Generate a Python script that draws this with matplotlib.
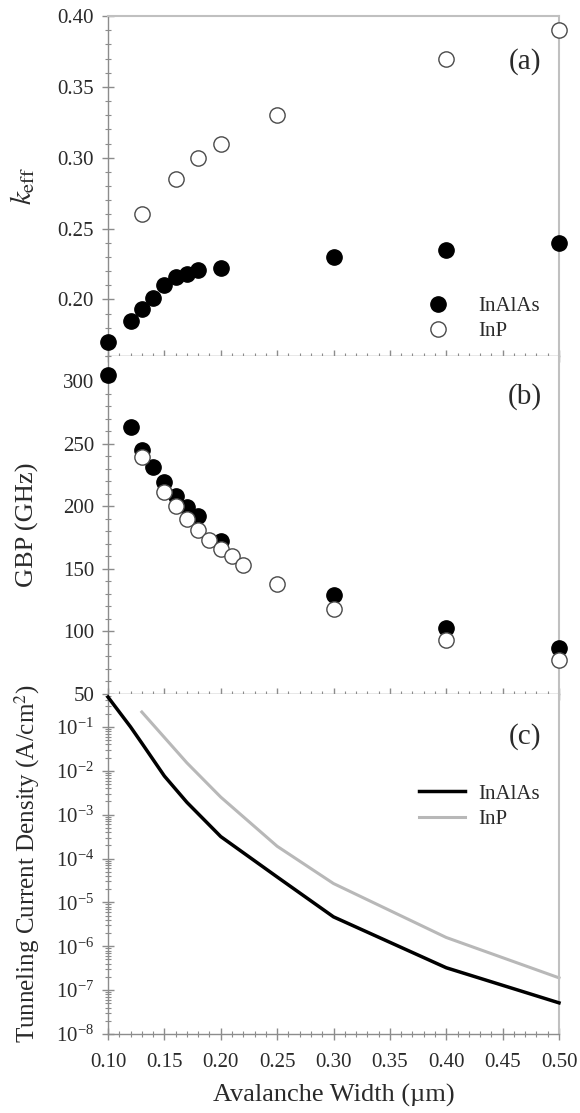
import numpy as np
import matplotlib
matplotlib.use("Agg")
import matplotlib.pyplot as plt
from matplotlib.ticker import MultipleLocator, LogLocator, NullFormatter, LogFormatterSciNotation

plt.rcParams['font.family'] = ['Liberation Serif', 'DejaVu Serif']
plt.rcParams['mathtext.fontset'] = 'stix'

# ---- data ----
# (a) k_eff
w_keff_inalas = [0.10, 0.12, 0.13, 0.14, 0.15, 0.16, 0.17, 0.18, 0.20, 0.30, 0.40, 0.50]
keff_inalas = [0.170, 0.185, 0.193, 0.201, 0.210, 0.216, 0.218, 0.221, 0.222, 0.230, 0.235, 0.240]
w_keff_inp = [0.13, 0.16, 0.18, 0.20, 0.25, 0.40, 0.50]
keff_inp = [0.260, 0.285, 0.300, 0.310, 0.330, 0.370, 0.390]

# (b) GBP
w_gbp_inalas = [0.10, 0.12, 0.13, 0.14, 0.15, 0.16, 0.17, 0.18, 0.20, 0.30, 0.40, 0.50]
gbp_inalas = [305, 263, 245, 231, 219, 208, 199, 192, 172, 129, 103, 87]
w_gbp_inp = [0.13, 0.15, 0.16, 0.17, 0.18, 0.19, 0.20, 0.21, 0.22, 0.25, 0.30, 0.40, 0.50]
gbp_inp = [239, 211, 200, 190, 181, 173, 166, 160, 153, 138, 118, 93, 77]

# (c) tunneling current density (log10 values)
w_tun_inalas = [0.10, 0.12, 0.13, 0.15, 0.17, 0.20, 0.25, 0.30, 0.40, 0.50]
logj_inalas = [-0.32, -1.00, -1.37, -2.12, -2.72, -3.50, -4.42, -5.33, -6.49, -7.29]
w_tun_inp = [0.13, 0.15, 0.17, 0.20, 0.25, 0.30, 0.40, 0.50]
logj_inp = [-0.66, -1.24, -1.82, -2.60, -3.72, -4.57, -5.80, -6.72]

series_names = ['InAlAs', 'InP']
panel_labels = ['(a)', '(b)', '(c)']
xticks = [0.10, 0.15, 0.20, 0.25, 0.30, 0.35, 0.40, 0.45, 0.50]

# ---- figure ----
W, H = 580, 1113
fig = plt.figure(figsize=(W / 100, H / 100), dpi=100)
L, R = 108, 559
tops = [16, 356, 694]
bots = [356, 694, 1034]
axes = []
for t, b in zip(tops, bots):
    ax = fig.add_axes([L / W, 1 - b / H, (R - L) / W, (b - t) / H])
    axes.append(ax)
axa, axb, axc = axes

spine_col = '#8c8c8c'
light_col = '#c0c0c0'
text_col = '#2a2a2a'
for ax in axes:
    ax.set_xlim(0.10, 0.50)
    ax.set_xticks(xticks)
    ax.xaxis.set_minor_locator(MultipleLocator(0.01))
    for s in ['left', 'bottom']:
        ax.spines[s].set_color(spine_col)
        ax.spines[s].set_linewidth(1.0)
    ax.spines['right'].set_color(light_col)
    ax.spines['right'].set_linewidth(1.5)
    ax.spines['top'].set_visible(False)
    ax.tick_params(axis='both', which='both', colors=spine_col, labelcolor=text_col,
                   labelsize=15, direction='inout')
    ax.tick_params(axis='both', which='major', length=8, width=1.0)
    ax.tick_params(axis='both', which='minor', length=4, width=0.8)
    ax.tick_params(axis='x', pad=10)
    ax.tick_params(axis='y', pad=6)
    ax.tick_params(right=False, top=False, which='both')
axa.spines['top'].set_visible(True)
axa.spines['top'].set_color(light_col)
axa.spines['top'].set_linewidth(1.5)

for ax in (axa, axb):
    ax.tick_params(axis='x', labelbottom=False)

ms = 11
# (a)
axa.plot(w_keff_inalas, keff_inalas, 'o', ms=ms, color='black', clip_on=False,
         label=series_names[0], zorder=3)
axa.plot(w_keff_inp, keff_inp, 'o', ms=ms, mfc='white', mec='#4a4a4a', mew=1.0,
         clip_on=False, label=series_names[1], zorder=3)
axa.set_ylim(0.16, 0.40)
axa.set_yticks([0.20, 0.25, 0.30, 0.35, 0.40])
axa.yaxis.set_major_formatter(matplotlib.ticker.FormatStrFormatter('%.2f'))
axa.yaxis.set_minor_locator(MultipleLocator(0.01))
axa.set_ylabel(r'$k_{\mathrm{eff}}$', fontsize=21, color=text_col)
axa.yaxis.set_label_coords(-0.158, 0.5)
axa.legend(loc='lower right', bbox_to_anchor=(0.975, 0.02), frameon=False,
           fontsize=15, handletextpad=0.9, labelspacing=0.25, borderaxespad=0,
           labelcolor=text_col)
axa.text(0.925, 0.865, panel_labels[0], transform=axa.transAxes, fontsize=21,
         ha='center', va='center', color=text_col)

# (b)
axb.plot(w_gbp_inalas, gbp_inalas, 'o', ms=ms, color='black', clip_on=False, zorder=3)
axb.plot(w_gbp_inp, gbp_inp, 'o', ms=ms, mfc='white', mec='#4a4a4a', mew=1.0,
         clip_on=False, zorder=4)
axb.set_ylim(50, 320)
axb.set_yticks([50, 100, 150, 200, 250, 300])
axb.yaxis.set_minor_locator(MultipleLocator(10))
axb.set_ylabel('GBP (GHz)', fontsize=19, color=text_col)
axb.yaxis.set_label_coords(-0.153, 0.5)
axb.text(0.925, 0.88, panel_labels[1], transform=axb.transAxes, fontsize=21,
         ha='center', va='center', color=text_col)

# (c)
axc.set_yscale('log')
axc.plot(w_tun_inalas, 10 ** np.array(logj_inalas), '-', color='black', lw=2.5,
         label=series_names[0], clip_on=False, zorder=3)
axc.plot(w_tun_inp, 10 ** np.array(logj_inp), '-', color='#b8b8b8', lw=2.2,
         label=series_names[1], clip_on=False, zorder=2)
axc.set_ylim(1e-8, 10 ** -0.25)
axc.yaxis.set_major_locator(LogLocator(base=10, numticks=20))
axc.yaxis.set_minor_locator(LogLocator(base=10, subs=np.arange(2, 10), numticks=20))
axc.yaxis.set_minor_formatter(NullFormatter())
axc.yaxis.set_major_formatter(LogFormatterSciNotation())
axc.set_xticklabels([f'{v:.2f}' for v in xticks])
axc.set_ylabel(r'Tunneling Current Density (A/cm$^2$)', fontsize=18, color=text_col)
axc.yaxis.set_label_coords(-0.146, 0.50)
axc.set_xlabel('Avalanche Width (\u00b5m)', fontsize=19, color=text_col, labelpad=8)
axc.legend(loc='upper right', bbox_to_anchor=(0.975, 0.76), frameon=False,
           fontsize=15, handlelength=2.2, handletextpad=0.6, labelspacing=0.3,
           borderaxespad=0, labelcolor=text_col)
axc.text(0.925, 0.875, panel_labels[2], transform=axc.transAxes, fontsize=21,
         ha='center', va='center', color=text_col)

fig.savefig('out.png', dpi=100)
